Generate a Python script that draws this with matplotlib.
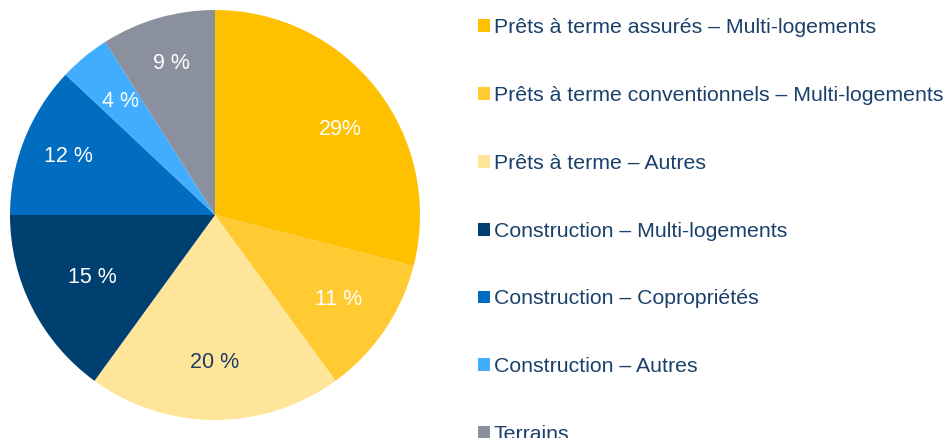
import matplotlib
matplotlib.use("Agg")
import matplotlib.pyplot as plt
import numpy as np

plt.rcParams['font.family'] = ['Liberation Sans', 'DejaVu Sans']

categories = [
    "Prêts à terme assurés – Multi-logements",
    "Prêts à terme conventionnels – Multi-logements",
    "Prêts à terme – Autres",
    "Construction – Multi-logements",
    "Construction – Copropriétés",
    "Construction – Autres",
    "Terrains",
]
values = [29, 11, 20, 15, 12, 4, 9]
value_labels = ["29%", "11 %", "20 %", "15 %", "12 %", "4 %", "9 %"]
colors = ["#FFC000", "#FFCA32", "#FFE599", "#004070", "#006DC0", "#41ADFF", "#8A909E"]
label_colors = ["white", "white", "#1F3E66", "white", "white", "white", "white"]
text_color = "#1B406B"

# radial placement of the value labels (layout)
label_radius = [0.74, 0.73, 0.72, 0.67, 0.77, 0.72, 0.77]
label_angle_shift = [-3.5, 0, 0, 0, 0, 0, 0]

W, H = 948, 438
fig = plt.figure(figsize=(W / 100, H / 100), dpi=100)
ax = fig.add_axes([10 / W, (H - 420) / H, 410 / W, 410 / H])

wedges, _ = ax.pie(values, colors=colors, startangle=90, counterclock=False,
                   wedgeprops=dict(linewidth=0))
ax.set_xlim(-1, 1)
ax.set_ylim(-1, 1)
ax.set_aspect('equal')

for w, lab, c, r, da in zip(wedges, value_labels, label_colors, label_radius, label_angle_shift):
    ang = np.deg2rad((w.theta1 + w.theta2) / 2 + da)
    ax.text(r * np.cos(ang), r * np.sin(ang), lab, ha='center', va='center',
            fontsize=15.5, color=c)

leg = fig.legend(wedges, categories, loc='upper left',
                 bbox_to_anchor=(478 / W, 1 - 18 / H), frameon=False,
                 fontsize=15.3, handlelength=0.55, handleheight=0.55,
                 handletextpad=0.2, labelspacing=2.3, borderaxespad=0,
                 borderpad=0)
for t in leg.get_texts():
    t.set_color(text_color)

fig.savefig("out.png", dpi=100)
